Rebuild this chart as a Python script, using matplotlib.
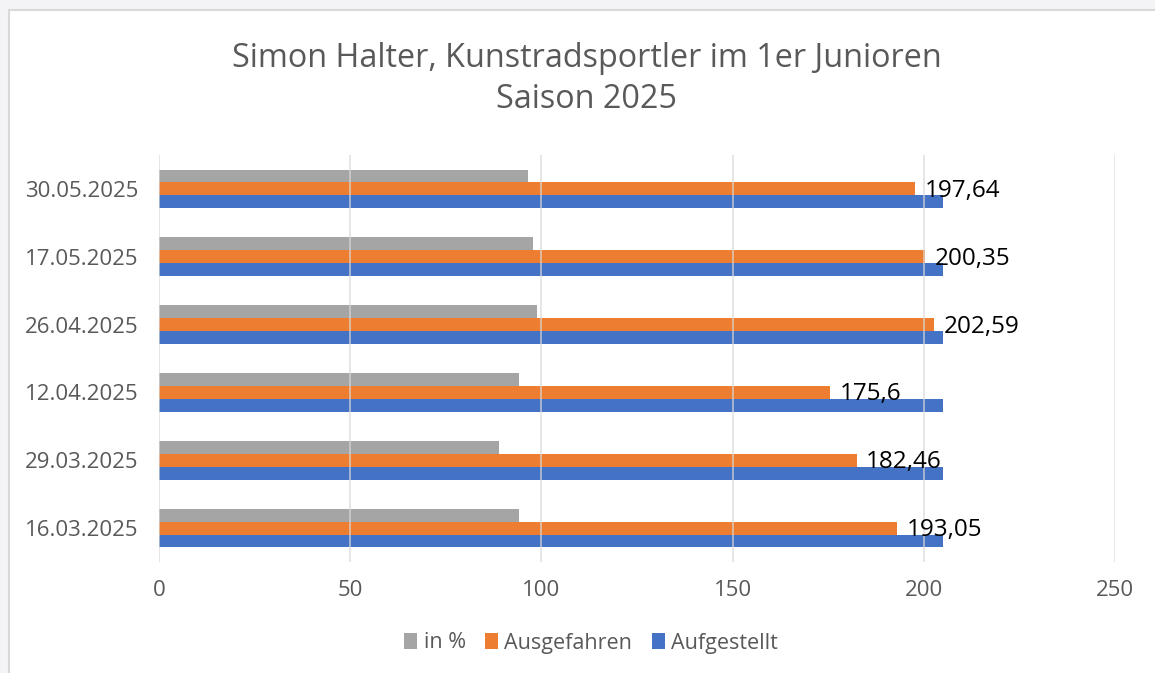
import matplotlib.pyplot as plt
import numpy as np
from matplotlib.patches import Rectangle

plt.rcParams['font.family'] = ['Open Sans', 'DejaVu Sans']

# data
dates = ['16.03.2025', '29.03.2025', '12.04.2025', '26.04.2025', '17.05.2025', '30.05.2025']
aufgestellt = [205, 205, 205, 205, 205, 205]
ausgefahren = [193.05, 182.46, 175.6, 202.59, 200.35, 197.64]
in_prozent = [94.17, 89.0, 94.2, 98.83, 97.73, 96.41]
labels = ['193,05', '182,46', '175,6', '202,59', '200,35', '197,64']

c_grau = '#a5a5a5'
c_orange = '#ed7d31'
c_blau = '#4472c4'
txt = '#595959'

fig = plt.figure(figsize=(11.55, 6.73), dpi=100)

# screenshot frame: light strip left/top and chart border
fig.patches.append(Rectangle((0, 0), 1, 1, transform=fig.transFigure,
                             facecolor='#f4f4f6', edgecolor='none', zorder=-3))
fig.patches.append(Rectangle((9 / 1155, -0.01), 1.01, 1 - 10 / 673 + 0.01,
                             transform=fig.transFigure, facecolor='white',
                             edgecolor='#d9d9d9', linewidth=1.5, zorder=-2))

ax = fig.add_axes([159 / 1155, 1 - 562 / 673, (1115 - 159) / 1155, 407 / 673])

y = np.arange(len(dates))
h = 0.19
ax.barh(y - h, aufgestellt, height=h, color=c_blau, label='Aufgestellt', zorder=2)
ax.barh(y, ausgefahren, height=h, color=c_orange, label='Ausgefahren', zorder=2)
ax.barh(y + h, in_prozent, height=h, color=c_grau, label='in %', zorder=2)

for i in range(len(dates)):
    ax.text(ausgefahren[i] + 2.5, y[i] - 0.03, labels[i], va='center', ha='left',
            fontsize=17.5, color='black', zorder=4)

ax.set_xlim(0, 250)
ax.set_ylim(-0.5, len(dates) - 0.5)
ax.set_xticks(np.arange(0, 251, 50))
ax.set_yticks(y)
ax.set_yticklabels(dates)
ax.grid(axis='x', color='#d9d9d9', linewidth=1.3, zorder=3, alpha=0.7)
ax.set_axisbelow(False)
for s in ax.spines.values():
    s.set_visible(False)
ax.tick_params(axis='both', length=0, labelsize=16, labelcolor=txt)
ax.tick_params(axis='x', pad=13)
ax.tick_params(axis='y', pad=15)

fig.text(587 / 1155, 1 - 79 / 673, 'Simon Halter, Kunstradsportler im 1er Junioren\nSaison 2025',
         ha='center', va='center', fontsize=23.3, color=txt, linespacing=1.35)

handles, leg_labels = ax.get_legend_handles_labels()
order = [2, 1, 0]
fig.legend([handles[i] for i in order], [leg_labels[i] for i in order],
           loc='center', bbox_to_anchor=(591 / 1155, 1 - 643 / 673), ncol=3,
           frameon=False, fontsize=15.5, labelcolor=txt, handlelength=0.6,
           handleheight=0.8, handletextpad=0.3, columnspacing=0.9)

fig.savefig('out.png', dpi=100)
